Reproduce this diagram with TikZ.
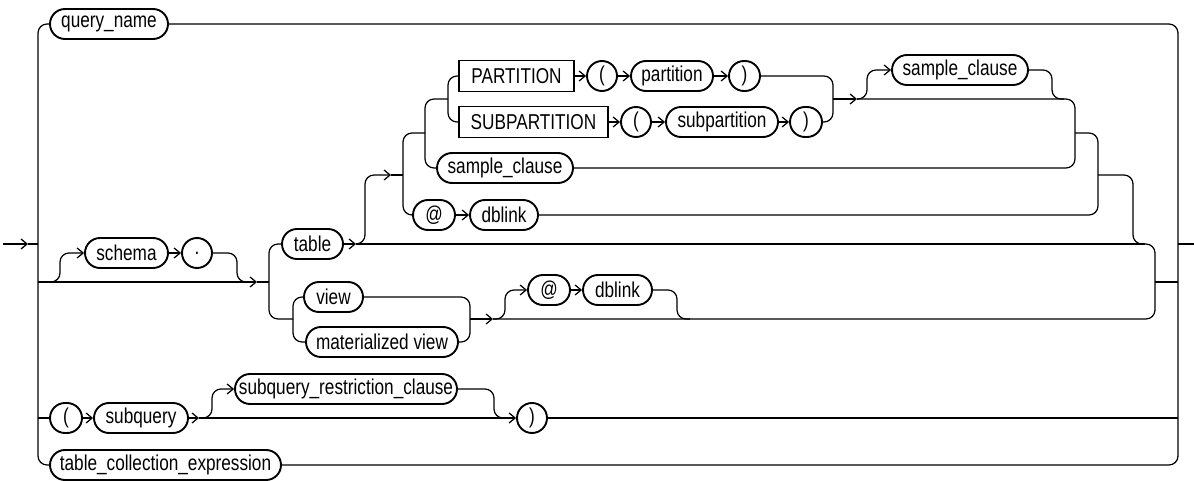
\documentclass[tikz,border=0pt]{standalone}
\usepackage{fontspec}
\setmainfont{Liberation Sans}[FakeStretch=0.8]
\usetikzlibrary{arrows.meta}
\newcommand\railfont{\fontsize{21.5}{25}\selectfont}
\begin{document}
\begin{tikzpicture}[x=1pt,y=-1pt,
  term/.style={draw, line width=1.9pt, rounded corners=15pt, minimum height=30pt, inner sep=0pt, font=\railfont},
  kw/.style={draw, line width=1.9pt, minimum height=31pt, inner sep=0pt, font=\railfont},
  rail/.style={line width=1.25pt, rounded corners=9pt},
  fwd/.style={-{Straight Barb[length=6pt,width=10pt]}}]
\useasboundingbox (0,0) rectangle (1194,481);

% nodes
\node[term,minimum width=118pt] (qn) at (109,24) {query\_name};
\node[term,minimum width=83pt] (schema) at (126.5,253) {schema};
\node[term,minimum width=30pt] (dot) at (197,253) {.};
\node[term,minimum width=61pt] (table) at (312.5,244) {table};
\node[term,minimum width=59pt] (view) at (333.5,297) {view};
\node[term,minimum width=152pt] (mview) at (382,342) {materialized view};
\node[kw,minimum width=115pt] (part) at (516.5,76) {PARTITION};
\node[term,minimum width=30pt] (lpa) at (602,76) {(};
\node[term,minimum width=82pt] (partition) at (672,76) {partition};
\node[term,minimum width=31pt] (rpa) at (744.5,76) {)};
\node[kw,minimum width=149pt] (subpart) at (533.5,122) {SUBPARTITION};
\node[term,minimum width=30pt] (lps) at (636,122) {(};
\node[term,minimum width=112pt] (subpartition) at (722,122) {subpartition};
\node[term,minimum width=32pt] (rps) at (806,122) {)};
\node[term,minimum width=136pt] (sc1) at (960,70) {sample\_clause};
\node[term,minimum width=136pt] (sc2) at (505,168) {sample\_clause};
\node[term,minimum width=42pt] (at1) at (434,215) {@};
\node[term,minimum width=68pt] (db1) at (504,215) {dblink};
\node[term,minimum width=42pt] (at2) at (549,290) {@};
\node[term,minimum width=69pt] (db2) at (617.5,290) {dblink};
\node[term,minimum width=32pt] (lpq) at (66,418) {(};
\node[term,minimum width=94pt] (subq) at (141,418) {subquery};
\node[term,minimum width=222pt] (src) at (346,389) {subquery\_restriction\_clause};
\node[term,minimum width=30pt] (rpq) at (532,418) {)};
\node[term,minimum width=231pt] (tce) at (165.5,465) {table\_collection\_expression};

% junction coordinates
\coordinate (start) at (3,244);
\coordinate (stop) at (1194,244);
\coordinate (ea) at (28,244);
\coordinate (L) at (38,244);
\coordinate (R) at (1178,244);
\coordinate (sb) at (38,282);
\coordinate (sm) at (257,282);
\coordinate (tv) at (269,282);
\coordinate (tarr) at (356,244);
\coordinate (c1in) at (391,175);
\coordinate (c1) at (403,175);
\coordinate (vx) at (470,319);
\coordinate (varr) at (493,319);
\coordinate (px) at (833,99);
\coordinate (parr) at (857,99);
\coordinate (qarr) at (199,418);

% main rails
\draw[rail,fwd] (start) -- (ea);
\draw[rail] (ea) -- (L);
\draw[rail] (qn.west) -- (38,24) -- (38,465) -- (tce.west);
\draw[rail] (qn.east) -- (1178,24) -- (1178,465) -- (tce.east);
\draw[rail] (R) -- (stop);

% schema branch
\draw[rail,fwd] (sb) -- (sm);
\draw[rail] (sm) -- (tv);
\draw[rail,fwd] (sb) -- (60,282) -- (60,253) -- (schema.west);
\draw[rail,fwd] (schema) -- (dot);
\draw[rail] (dot.east) -- (237,253) -- (237,282) -- (249,282);

% table / view choice
\draw[rail] (table.west) -- (269,244) -- (269,319) -- (293,319);
\draw[rail] (view.west) -- (293,297) -- (293,342) -- (mview.west);
\draw[rail] (view.east) -- (470,297) -- (470,342) -- (mview.east);
\draw[rail,fwd] (vx) -- (varr);
\draw[rail] (varr) -- (1155,319) -- (1155,244) -- (1140,244);
\draw[rail] (1155,282) -- (1178,282);

% view @ dblink
\draw[rail,fwd] (varr) -- (505,319) -- (505,290) -- (at2.west);
\draw[rail,fwd] (at2) -- (db2);
\draw[rail] (db2.east) -- (677,290) -- (677,319) -- (690,319);

% table options
\draw[rail,fwd] (table.east) -- (tarr);
\draw[rail] (tarr) -- (1145,244);
\draw[rail,fwd] (tarr) -- (365,244) -- (365,175) -- (c1in);
\draw[rail] (c1in) -- (c1);
\draw[rail] (425,133) -- (403,133) -- (403,215) -- (at1.west);
\draw[rail,fwd] (at1) -- (db1);
\draw[rail] (448,99) -- (425,99) -- (425,168) -- (sc2.west);
\draw[rail] (part.west) -- (448,76) -- (448,122) -- (subpart.west);
\draw[rail,fwd] (part) -- (lpa);
\draw[rail,fwd] (lpa) -- (partition);
\draw[rail,fwd] (partition) -- (rpa);
\draw[rail,fwd] (subpart) -- (lps);
\draw[rail,fwd] (lps) -- (subpartition);
\draw[rail,fwd] (subpartition) -- (rps);
\draw[rail] (rpa.east) -- (833,76) -- (833,122) -- (rps.east);
\draw[rail,fwd] (px) -- (parr);
\draw[rail] (parr) -- (1075,99) -- (1075,168) -- (sc2.east);
\draw[rail,fwd] (parr) -- (867,99) -- (867,70) -- (sc1.west);
\draw[rail] (sc1.east) -- (1052,70) -- (1052,99) -- (1064,99);
\draw[rail] (1075,133) -- (1098,133) -- (1098,215) -- (db1.east);
\draw[rail] (1098,175) -- (1133,175) -- (1133,244) -- (1145,244);

% subquery row
\draw[rail] (38,418) -- (lpq.west);
\draw[rail,fwd] (lpq) -- (subq);
\draw[rail,fwd] (subq.east) -- (qarr);
\draw[rail,fwd] (qarr) -- (rpq.west);
\draw[rail,fwd] (qarr) -- (212,418) -- (212,389) -- (src.west);
\draw[rail] (src.east) -- (494,389) -- (494,418) -- (506,418);
\draw[rail] (rpq.east) -- (1178,418);
\end{tikzpicture}
\end{document}
